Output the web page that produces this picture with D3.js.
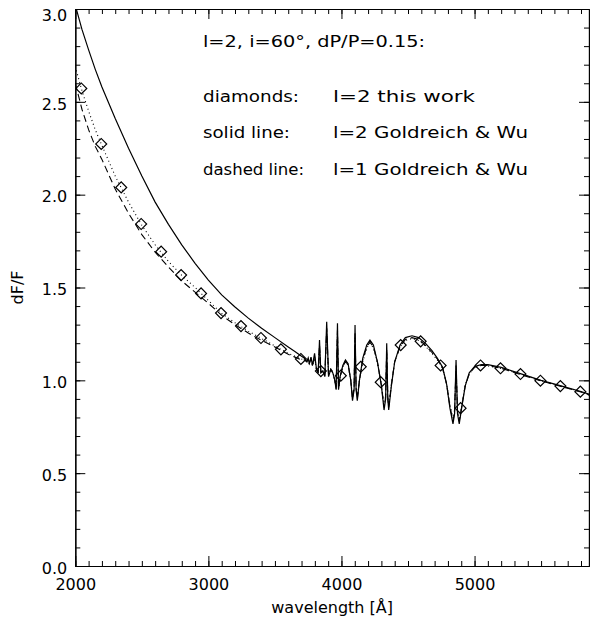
<!DOCTYPE html>
<html><head><meta charset="utf-8">
<script src="https://cdn.jsdelivr.net/npm/d3@7"></script>
<style>
html,body{margin:0;padding:0;background:#fff;}
text{font-family:"DejaVu Sans",sans-serif;fill:#000;}
</style></head>
<body><svg id="c" width="590" height="623"></svg>
<script>
// ---- data ----
const wave = [2000,2050,2100,2150,2200,2300,2400,2500,2600,2700,2800,2900,3000,3100,3200,3300,3400,3500,3600,3650,3700,
  3720,3740,3750,3758,3771,3782,3798,3812,3825,3835,3845,3860,3875,3889,3903,3920,3935,3950,3960,3970,3978,3990,
  4010,4030,4050,4070,4083,4095,4102,4110,4119,4135,4160,4190,4214,4240,4270,4300,4320,4332,4340,4348,4355,4375,
  4400,4440,4480,4530,4580,4630,4680,4720,4760,4790,4815,4838,4850,4861,4872,4885,4905,4930,4960,5000,5050,5100,
  5200,5350,5500,5650,5800,5860];
const solidL2GW = [3.02,2.89,2.78,2.675,2.58,2.41,2.25,2.10,1.96,1.84,1.73,1.63,1.54,1.46,1.395,1.335,1.28,1.23,1.18,1.155,1.13,
  1.12,1.10,1.12,1.09,1.125,1.08,1.145,1.06,1.04,1.217,1.04,1.05,1.02,1.316,1.02,1.06,1.04,1.00,0.95,1.307,0.95,1.02,
  1.08,1.11,1.09,1.00,0.89,0.95,1.298,0.95,0.89,1.00,1.12,1.19,1.217,1.19,1.10,0.97,0.84,0.90,1.20,0.90,0.84,0.97,
  1.10,1.19,1.23,1.24,1.23,1.20,1.16,1.12,1.07,0.98,0.85,0.765,0.82,1.11,0.82,0.765,0.86,0.97,1.04,1.075,1.085,1.085,
  1.07,1.035,1.00,0.97,0.94,0.925];
const dashedL1GW = [2.60,2.46,2.35,2.26,2.19,2.03,1.90,1.785,1.69,1.61,1.535,1.475,1.415,1.35,1.30,1.255,1.215,1.18,1.14,1.125,1.11,
  1.11,1.10,1.115,1.09,1.115,1.08,1.13,1.06,1.045,1.19,1.045,1.05,1.025,1.28,1.025,1.06,1.04,1.00,0.955,1.27,0.955,1.02,
  1.075,1.10,1.085,1.00,0.90,0.96,1.26,0.96,0.90,1.00,1.11,1.18,1.205,1.18,1.10,0.975,0.855,0.91,1.17,0.91,0.855,0.975,
  1.10,1.18,1.22,1.23,1.22,1.19,1.15,1.115,1.065,0.98,0.86,0.78,0.83,1.08,0.83,0.78,0.865,0.97,1.035,1.07,1.08,1.08,
  1.065,1.03,0.997,0.967,0.937,0.922];
const dottedL2This = [2.69,2.56,2.45,2.35,2.265,2.10,1.96,1.835,1.73,1.64,1.565,1.50,1.43,1.36,1.31,1.265,1.225,1.185,1.145,1.13,1.115,
  1.11,1.10,1.11,1.09,1.11,1.08,1.12,1.06,1.05,1.17,1.05,1.05,1.03,1.25,1.03,1.06,1.045,1.005,0.96,1.24,0.96,1.02,
  1.07,1.10,1.08,1.00,0.91,0.965,1.23,0.965,0.91,1.00,1.10,1.175,1.20,1.175,1.095,0.98,0.865,0.915,1.15,0.915,0.865,0.98,
  1.10,1.18,1.215,1.225,1.215,1.185,1.145,1.11,1.065,0.985,0.87,0.795,0.84,1.06,0.84,0.795,0.87,0.975,1.035,1.07,1.08,1.078,
  1.063,1.033,0.998,0.968,0.938,0.92];
const diamondWave = [2045,2195,2345,2495,2645,2795,2945,3095,3245,3395,3545,3695,3845,3995,4145,4295,4445,4595,4745,4895,5045,5195,5345,5495,5645,5795];
const diamondVal  = [2.572,2.273,2.039,1.842,1.693,1.567,1.468,1.362,1.292,1.228,1.167,1.115,1.050,1.025,1.073,0.990,1.190,1.210,1.080,0.850,1.080,1.065,1.034,0.998,0.969,0.939];
const xTicks = [2000,3000,4000,5000];
const yTicks = [0.0,0.5,1.0,1.5,2.0,2.5,3.0];
const legendLines = [["diamonds:","l=2 this work"],["solid line:","l=2 Goldreich & Wu"],["dashed line:","l=1 Goldreich & Wu"]];
const titleText = "l=2, i=60°, dP/P=0.15:";

// ---- layout ----
const L=75.3, R=589, T=9, B=566;
const svg=d3.select("#c");
const x=d3.scaleLinear().domain([2000,5860]).range([L,R]);
const y=d3.scaleLinear().domain([0,3]).range([B,T]);

svg.append("defs").append("clipPath").attr("id","clip").append("rect")
  .attr("x",L).attr("y",T).attr("width",R-L).attr("height",B-T);

const g=svg.append("g").attr("clip-path","url(#clip)");
function series(vals){ return wave.map((w,i)=>[w,vals[i]]).filter(d=>d[1]!==undefined); }
const line=d3.line().x(d=>x(d[0])).y(d=>y(d[1]));
g.append("path").attr("d",line(series(solidL2GW))).attr("fill","none").attr("stroke","#000").attr("stroke-width",1.2);
g.append("path").attr("d",line(series(dashedL1GW))).attr("fill","none").attr("stroke","#000").attr("stroke-width",1.1).attr("stroke-dasharray","7,4");
g.append("path").attr("d",line(series(dottedL2This))).attr("fill","none").attr("stroke","#000").attr("stroke-width",1.1).attr("stroke-dasharray","1,3");
g.selectAll(".dm").data(diamondWave.map((w,i)=>[w,diamondVal[i]])).enter().append("path")
  .attr("d",d3.symbol().type(d3.symbolSquare).size(60))
  .attr("transform",d=>`translate(${x(d[0])},${y(d[1])}) rotate(45)`)
  .attr("fill","none").attr("stroke","#000").attr("stroke-width",1.2);

// ---- axes ----
const xMinor=d3.range(2000,5861,100), yMinor=d3.range(0,3.0001,0.1);
function axis(ax,pos,ticks,size,fmt){
  const a=svg.append("g").attr("transform",pos).call(ax.tickValues(ticks).tickSize(size).tickSizeOuter(0).tickFormat(fmt));
  a.select(".domain").attr("stroke","#000").attr("stroke-width",1.2);
  a.selectAll(".tick line").attr("stroke","#000").attr("stroke-width",1);
  return a;
}
axis(d3.axisBottom(x),`translate(0,${B})`,xMinor,-5,()=>"" );
const xb=axis(d3.axisBottom(x),`translate(0,${B})`,xTicks,-10,d3.format("d"));
xb.selectAll("text").attr("y",13).attr("dy","0.71em").attr("font-size",16).attr("font-family","DejaVu Sans");
axis(d3.axisTop(x),`translate(0,${T})`,xMinor,-5,()=>"");
axis(d3.axisTop(x),`translate(0,${T})`,xTicks,-10,()=>"");
axis(d3.axisLeft(y),`translate(${L},0)`,yMinor,-5,()=>"");
const yl=axis(d3.axisLeft(y),`translate(${L},0)`,yTicks,-10,d3.format(".1f"));
yl.selectAll("text").attr("x",-8).attr("font-size",16).attr("font-family","DejaVu Sans")
  .attr("dy",d=>d===3?"0.72em":"0.45em");
axis(d3.axisRight(y),`translate(${R},0)`,yMinor,-5,()=>"");
axis(d3.axisRight(y),`translate(${R},0)`,yTicks,-10,()=>"");

// ---- labels ----
svg.append("text").attr("x",(L+R)/2).attr("y",613).attr("text-anchor","middle").attr("font-size",16).text("wavelength [Å]");
svg.append("text").attr("transform",`translate(23,${(T+B)/2}) rotate(-90)`).attr("text-anchor","middle").attr("font-size",16).text("dF/F");

function ltext(xx,yy,s,w){
  svg.append("text").attr("x",xx).attr("y",yy).attr("font-size",16)
    .attr("textLength",w).attr("lengthAdjust","spacingAndGlyphs").text(s);
}
ltext(203,47,titleText,222);
const leftW=[96,87,101], rightW=[142,195,195];
legendLines.forEach((p,i)=>{
  const yy=[102,138,175][i];
  ltext(203,yy,p[0],leftW[i]);
  ltext(333,yy,p[1],rightW[i]);
});
</script></body></html>
